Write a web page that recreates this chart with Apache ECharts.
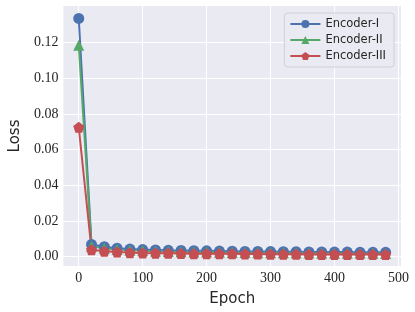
<!DOCTYPE html>
<html><head><meta charset="utf-8">
<script src="https://cdn.jsdelivr.net/npm/echarts@6/dist/echarts.min.js"></script>
<style>html,body{margin:0;padding:0;background:#fff}#c{width:415px;height:312px}</style>
</head><body><div id="c"></div>
<script>
const epochs = [0,20,40,60,80,100,120,140,160,180,200,220,240,260,280,300,320,340,360,380,400,420,440,460,480];
const encoderI = [0.1335,0.0068,0.0055,0.0047,0.0042,0.0039,0.0037,0.0035,0.0034,0.0033,0.0032,0.0031,0.0030,0.0029,0.0029,0.0028,0.0027,0.0027,0.0026,0.0026,0.0025,0.0025,0.0024,0.0024,0.0024];
const encoderII = [0.1185,0.0057,0.0046,0.0039,0.0035,0.0032,0.0030,0.0029,0.0027,0.0026,0.0025,0.0024,0.0023,0.0023,0.0022,0.0021,0.0021,0.0020,0.0020,0.0019,0.0019,0.0018,0.0018,0.0018,0.0017];
const encoderIII = [0.0725,0.0038,0.0030,0.0025,0.0022,0.0020,0.0019,0.0018,0.0017,0.0016,0.0016,0.0015,0.0015,0.0014,0.0014,0.0013,0.0013,0.0013,0.0012,0.0012,0.0012,0.0011,0.0011,0.0011,0.0011];
const xTicks = [0,100,200,300,400,500];
const yTicks = [0,0.02,0.04,0.06,0.08,0.10,0.12];

const pent = 'path://M0,-1L0.951,-0.309L0.588,0.809L-0.588,0.809L-0.951,-0.309Z';
const chart = echarts.init(document.getElementById('c'), null, {renderer:'canvas'});
function mk(name, data, color, symbol, size){
  return {name, type:'line', data: epochs.map((e,i)=>[e,data[i]]), symbol, symbolSize:size,
    showSymbol:true, lineStyle:{color, width:2}, itemStyle:{color}, z:2};
}
chart.setOption({
  animation:false,
  backgroundColor:'#ffffff',
  grid:{left:60, right:14, top:6, bottom:43, show:true, backgroundColor:'#EAEAF2', borderWidth:0},
  legend:{right:21, top:13, orient:'vertical', itemWidth:30, itemHeight:10, itemGap:4,
    padding:[5,8,5,5], backgroundColor:'rgba(234,234,242,0.85)', borderColor:'#d0d0d8', borderWidth:1, borderRadius:3,
    textStyle:{fontFamily:'DejaVu Sans', fontSize:11.5, color:'#262626'},
    data:['Encoder-I','Encoder-II','Encoder-III']},
  xAxis:{type:'value', min:-24, max:504, name:'Epoch', nameLocation:'middle', nameGap:26,
    nameTextStyle:{fontFamily:'DejaVu Sans', fontSize:15, color:'#262626'},
    axisLine:{show:false}, axisTick:{show:false, customValues:xTicks},
    axisLabel:{customValues:xTicks, fontFamily:'Liberation Serif', fontSize:14, color:'#262626', margin:5},
    splitLine:{show:true, lineStyle:{color:'#ffffff', width:1}}},
  yAxis:{type:'value', min:-0.0053, max:0.1405, name:'Loss', nameLocation:'middle', nameGap:32,
    nameTextStyle:{fontFamily:'DejaVu Sans', fontSize:15, color:'#262626'},
    axisLine:{show:false}, axisTick:{show:false, customValues:yTicks},
    axisLabel:{customValues:yTicks, formatter:v=>v.toFixed(2), fontFamily:'Liberation Serif', fontSize:14, color:'#262626', margin:5},
    splitLine:{show:true, lineStyle:{color:'#ffffff', width:1}}},
  series:[
    mk('Encoder-I', encoderI, '#4C72B0', 'circle', 11),
    mk('Encoder-II', encoderII, '#55A868', 'triangle', 11),
    mk('Encoder-III', encoderIII, '#C44E52', pent, 11)
  ]
});
</script></body></html>
